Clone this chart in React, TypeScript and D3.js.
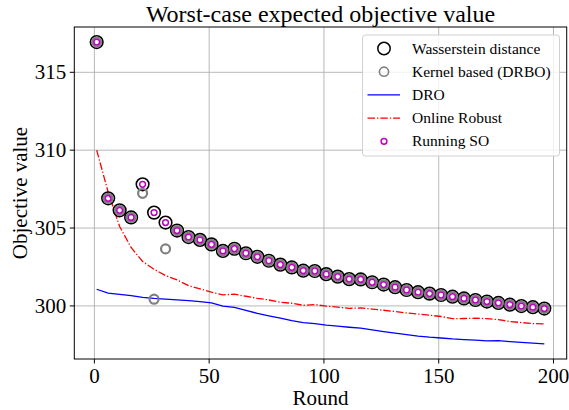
import React from "react";
import * as d3 from "d3";

const rounds = [1, 6, 11, 16, 21, 26, 31, 36, 41, 46, 51, 56, 61, 66, 71, 76, 81, 86, 91, 96,
  101, 106, 111, 116, 121, 126, 131, 136, 141, 146, 151, 156, 161, 166, 171, 176, 181, 186, 191, 196];

const wasserstein = [316.94, 306.91, 306.14, 305.68, 307.81, 305.99, 305.35, 304.84, 304.42, 304.24,
  303.95, 303.53, 303.67, 303.38, 303.15, 302.90, 302.65, 302.47, 302.26, 302.24,
  302.04, 301.88, 301.72, 301.70, 301.52, 301.37, 301.20, 301.02, 300.88, 300.79,
  300.70, 300.59, 300.48, 300.38, 300.28, 300.19, 300.08, 299.99, 299.92, 299.83];

const kernel = [316.94, 306.91, 306.14, 305.68, 307.23, 300.43, 303.66, 304.84, 304.42, 304.24,
  303.95, 303.53, 303.67, 303.38, 303.15, 302.90, 302.65, 302.47, 302.26, 302.24,
  302.04, 301.88, 301.72, 301.70, 301.52, 301.37, 301.20, 301.02, 300.88, 300.79,
  300.70, 300.59, 300.48, 300.38, 300.28, 300.19, 300.08, 299.99, 299.92, 299.83];

const dro = [301.07, 300.82, 300.74, 300.66, 300.55, 300.48, 300.43, 300.39, 300.34, 300.28,
  300.20, 299.98, 299.90, 299.72, 299.52, 299.36, 299.21, 299.06, 298.93, 298.86,
  298.76, 298.70, 298.63, 298.57, 298.46, 298.35, 298.25, 298.15, 298.06, 297.99,
  297.94, 297.88, 297.84, 297.80, 297.75, 297.77, 297.71, 297.66, 297.61, 297.56];

const onlineRobust = [310.0, 307.3, 305.1, 303.75, 302.85, 302.35, 301.95, 301.67, 301.3, 301.1,
  300.88, 300.71, 300.75, 300.62, 300.49, 300.38, 300.24, 300.17, 300.04, 300.09,
  299.98, 299.92, 299.84, 299.87, 299.80, 299.72, 299.64, 299.55, 299.48, 299.40,
  299.32, 299.18, 299.19, 299.21, 299.18, 299.12, 299.00, 298.93, 298.87, 298.84];

const runningSO = [316.94, 306.91, 306.14, 305.68, 307.81, 305.99, 305.35, 304.84, 304.42, 304.24,
  303.95, 303.53, 303.67, 303.38, 303.15, 302.90, 302.65, 302.47, 302.26, 302.24,
  302.04, 301.88, 301.72, 301.70, 301.52, 301.37, 301.20, 301.02, 300.88, 300.79,
  300.70, 300.59, 300.48, 300.38, 300.28, 300.19, 300.08, 299.99, 299.92, 299.83];

const xTicks = [0, 50, 100, 150, 200];
const yTicks = [300, 305, 310, 315];
const legendLabels = ["Wasserstein distance", "Kernel based (DRBO)", "DRO", "Online Robust", "Running SO"];

const W = 569;
const H = 410;
const FONT = "'Liberation Serif', 'Times New Roman', serif";

export default function App() {
  const left = 74.3, right = 566.7, top = 27, bottom = 359;
  const xMin = d3.min(rounds)!, xMax = d3.max(rounds)!;
  const xPad = (xMax - xMin) * 0.05;
  const all = [...wasserstein, ...kernel, ...dro, ...onlineRobust, ...runningSO];
  const yMin = d3.min(all)!, yMax = d3.max(all)!;
  const yPad = (yMax - yMin) * 0.05;
  const x = d3.scaleLinear().domain([xMin - xPad, xMax + xPad]).range([left, right]);
  const y = d3.scaleLinear().domain([yMin - yPad, yMax + yPad]).range([bottom, top]);

  const line = (vals: number[]) =>
    d3.line<number>().x((_, i) => x(rounds[i])).y((v) => y(v))(vals) || "";

  const lx = 362.5, ly = 35, lw = 197, lh = 121;
  const rowY = (i: number) => 48.5 + i * 23.2;
  const mx = 384;

  return (
    <svg width={W} height={H} style={{ position: "absolute", left: 0, top: 0, background: "#fff" }}
      fontFamily={FONT}>
      <rect x={0} y={0} width={W} height={H} fill="#fff" />
      {/* grid */}
      <g stroke="#b0b0b0" strokeWidth={0.9}>
        {xTicks.map((t) => (
          <line key={"gx" + t} x1={x(t)} x2={x(t)} y1={top} y2={bottom} />
        ))}
        {yTicks.map((t) => (
          <line key={"gy" + t} x1={left} x2={right} y1={y(t)} y2={y(t)} />
        ))}
      </g>
      {/* series */}
      <path d={line(dro)} fill="none" stroke="#0000ff" strokeWidth={1.3} />
      <path d={line(onlineRobust)} fill="none" stroke="#ff0000" strokeWidth={1.3}
        strokeDasharray="7.5,2,1.3,2" />
      <g fill="none">
        {wasserstein.map((v, i) => (
          <circle key={"w" + i} cx={x(rounds[i])} cy={y(v)} r={6.3} stroke="#000" strokeWidth={1.6} />
        ))}
        {kernel.map((v, i) => (
          <circle key={"k" + i} cx={x(rounds[i])} cy={y(v)} r={4.5} stroke="#808080" strokeWidth={2.2} />
        ))}
        {runningSO.map((v, i) => (
          <circle key={"r" + i} cx={x(rounds[i])} cy={y(v)} r={2.9} stroke="#bf00bf" strokeWidth={1.5} />
        ))}
      </g>
      {/* spines */}
      <rect x={left} y={top} width={right - left} height={bottom - top} fill="none" stroke="#000" strokeWidth={1} />
      {/* ticks */}
      <g stroke="#000" strokeWidth={1}>
        {xTicks.map((t) => (
          <line key={"tx" + t} x1={x(t)} x2={x(t)} y1={bottom} y2={bottom + 4.5} />
        ))}
        {yTicks.map((t) => (
          <line key={"ty" + t} x1={left - 4.5} x2={left} y1={y(t)} y2={y(t)} />
        ))}
      </g>
      <g fontSize={21} fill="#000">
        {xTicks.map((t) => (
          <text key={"lx" + t} x={x(t)} y={bottom + 24} textAnchor="middle">{t}</text>
        ))}
        {yTicks.map((t) => (
          <text key={"ly" + t} x={left - 8} y={y(t) + 7} textAnchor="end">{t}</text>
        ))}
      </g>
      <text x={(left + right) / 2} y={405} textAnchor="middle" fontSize={21}>Round</text>
      <text transform={`translate(27,${(top + bottom) / 2}) rotate(-90)`} textAnchor="middle" fontSize={21}>
        Objective value
      </text>
      <text x={(left + right) / 2} y={22} textAnchor="middle" fontSize={24}>
        Worst-case expected objective value
      </text>
      {/* legend */}
      <rect x={lx} y={ly} width={lw} height={lh} rx={3} fill="#fff" fillOpacity={0.8}
        stroke="#d0d0d0" strokeWidth={1} />
      <circle cx={mx} cy={rowY(0)} r={6.2} fill="none" stroke="#000" strokeWidth={1.5} />
      <circle cx={mx} cy={rowY(1)} r={4.6} fill="none" stroke="#808080" strokeWidth={1.6} />
      <line x1={367.5} x2={400} y1={rowY(2)} y2={rowY(2)} stroke="#0000ff" strokeWidth={1.3} />
      <line x1={367.5} x2={400} y1={rowY(3)} y2={rowY(3)} stroke="#ff0000" strokeWidth={1.3}
        strokeDasharray="7.5,2,1.3,2" />
      <circle cx={mx} cy={rowY(4)} r={2.9} fill="none" stroke="#bf00bf" strokeWidth={1.5} />
      <g fontSize={15.5}>
        {legendLabels.map((s, i) => (
          <text key={s} x={412} y={rowY(i) + 5}>{s}</text>
        ))}
      </g>
    </svg>
  );
}
